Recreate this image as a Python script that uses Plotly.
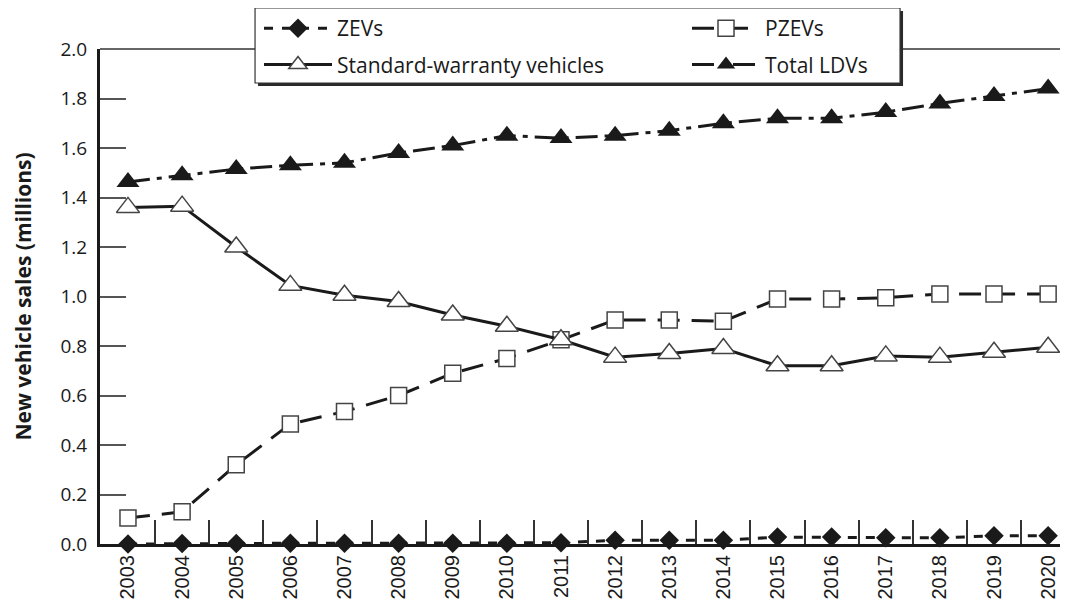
import plotly.graph_objects as go

years = [str(y) for y in range(2003, 2021)]
zevs = [0.0, 0.002, 0.002, 0.003, 0.003, 0.003, 0.003, 0.003, 0.005, 0.015, 0.015, 0.015,
        0.028, 0.028, 0.025, 0.025, 0.033, 0.033]
pzevs = [0.105, 0.13, 0.32, 0.485, 0.535, 0.60, 0.69, 0.75, 0.825, 0.905, 0.905, 0.90,
         0.99, 0.99, 0.995, 1.01, 1.01, 1.01]
standard = [1.36, 1.365, 1.20, 1.045, 1.005, 0.98, 0.925, 0.88, 0.825, 0.755, 0.77, 0.79,
            0.72, 0.72, 0.76, 0.755, 0.775, 0.795]
total = [1.463, 1.49, 1.515, 1.53, 1.54, 1.58, 1.61, 1.65, 1.64, 1.65, 1.67, 1.70,
         1.72, 1.72, 1.745, 1.78, 1.81, 1.84]
y_ticks = [0.0, 0.2, 0.4, 0.6, 0.8, 1.0, 1.2, 1.4, 1.6, 1.8, 2.0]

INK = "#1a1a1a"
FONT = "Open Sans"

fig = go.Figure()
fig.add_trace(go.Scatter(
    x=years, y=zevs, name="ZEVs", mode="lines+markers", cliponaxis=False,
    legend="legend", legendgroup="a", legendrank=1,
    line=dict(color=INK, width=3, dash="dash"),
    marker=dict(symbol="diamond", size=15, color=INK)))
fig.add_trace(go.Scatter(
    x=years, y=pzevs, name="PZEVs", mode="lines+markers", cliponaxis=False,
    legend="legend2", legendgroup="b", legendrank=1,
    line=dict(color=INK, width=3, dash="22px,12px"),
    marker=dict(symbol="square", size=16, color="white", line=dict(color="#444", width=1.5))))
fig.add_trace(go.Scatter(
    x=years, y=standard, name="Standard-warranty vehicles", mode="lines+markers", cliponaxis=False,
    legend="legend", legendgroup="c", legendrank=2,
    line=dict(color=INK, width=3),
    marker=dict(symbol="triangle-up", size=20, color="white", line=dict(color="#444", width=1.5))))
fig.add_trace(go.Scatter(
    x=years, y=total, name="Total LDVs", mode="lines+markers", cliponaxis=False,
    legend="legend2", legendgroup="d", legendrank=2,
    line=dict(color=INK, width=3, dash="22px,7px,5px,7px"),
    marker=dict(symbol="triangle-up", size=20, color=INK)))

legend_common = dict(
    orientation="v", xref="container", yref="container", xanchor="left", yanchor="top",
    itemwidth=68, tracegroupgap=6, bgcolor="rgba(0,0,0,0)", borderwidth=0,
    font=dict(family=FONT, size=21, color=INK),
)

fig.update_layout(
    width=1060, height=604,
    margin=dict(l=92, r=2, t=41, b=68, autoexpand=False),
    paper_bgcolor="white", plot_bgcolor="white",
    font=dict(family=FONT, size=18, color=INK),
    showlegend=True,
    legend=dict(legend_common, x=251 / 1060, y=1.0),
    legend2=dict(legend_common, x=679 / 1060, y=1.0),
    xaxis=dict(
        type="category", range=[-0.517, 17.33], tickson="boundaries",
        ticks="inside", ticklen=24, tickwidth=1.5, tickcolor="#333",
        showline=True, linecolor=INK, linewidth=3,
        showgrid=False, zeroline=False, tickangle=-90,
        tickfont=dict(family="Liberation Sans", size=20, color=INK),
    ),
    yaxis=dict(
        range=[0, 2.0], tickmode="array", tickvals=y_ticks,
        ticktext=[f"{v:.1f}" for v in y_ticks],
        ticks="inside", ticklen=26, tickwidth=1.5, tickcolor="#555",
        showline=True, linecolor=INK, linewidth=3,
        showgrid=False, zeroline=False, ticklabelstandoff=6,
        tickfont=dict(family=FONT, size=19, color=INK),
    ),
    annotations=[dict(
        text="<b>New vehicle sales (millions)</b>", textangle=-90,
        xref="paper", yref="paper", x=-0.0807, y=0.5,
        xanchor="center", yanchor="middle", showarrow=False,
        font=dict(family=FONT, size=21, color=INK),
    )],
    shapes=[
        # top frame line at 2.0
        dict(type="line", xref="paper", yref="paper", x0=0, x1=1, y0=1, y1=1,
             layer="above", line=dict(color="#333", width=1.5)),
        # legend drop shadow
        dict(type="rect", xref="paper", yref="paper", x0=0.1636, x1=0.8313,
             y0=0.9253, y1=1.0768, layer="above",
             fillcolor="#2a2a2a", line=dict(width=0)),
        # legend box
        dict(type="rect", xref="paper", yref="paper", x0=0.1605, x1=0.8282,
             y0=0.9313, y1=1.0828, layer="above",
             fillcolor="white", line=dict(color="#333", width=1.2)),
    ],
)

fig.write_html("out.html")
